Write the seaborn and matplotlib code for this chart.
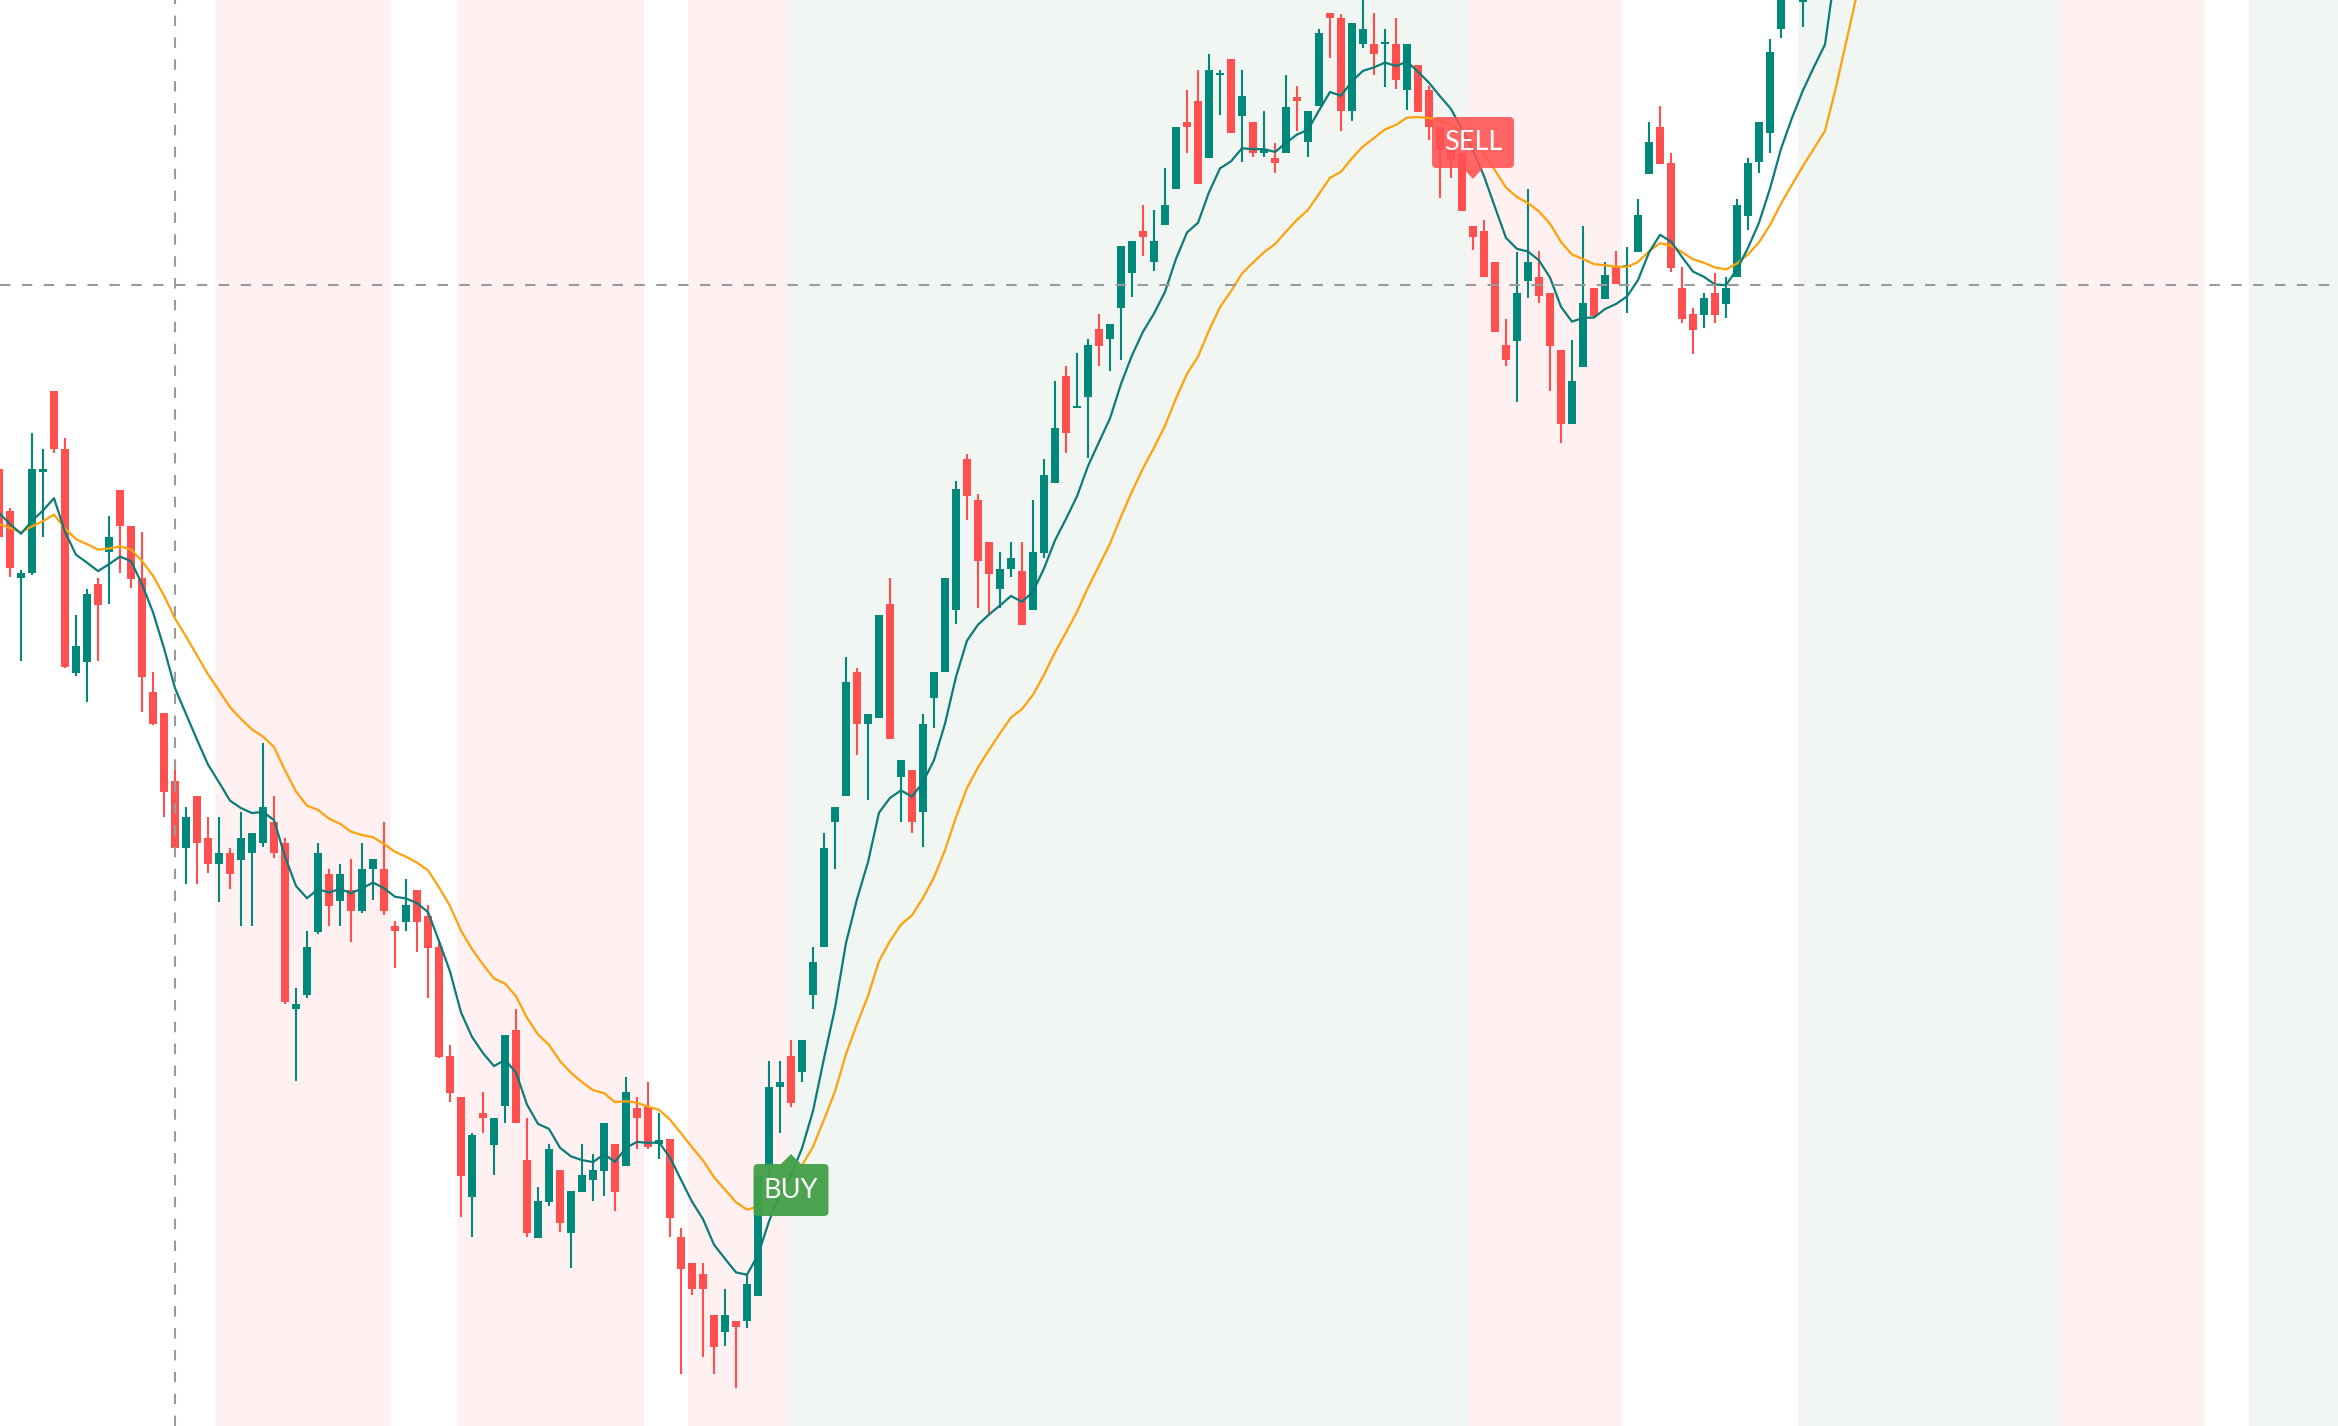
import numpy as np
import pandas as pd
import matplotlib
matplotlib.use("Agg")
import matplotlib.pyplot as plt
import seaborn as sns
from matplotlib.patches import FancyBboxPatch, Polygon

# ---------------- data ----------------
# bar index (-1 is the bar cut by the left edge; 161..168 run above the visible range)
bar_index = list(range(-1, 169))

open_ = [1031, 989, 922, 927, 1028, 1109, 1051, 827, 838, 916,
         948, 1010, 974, 922, 808, 787, 719, 652, 704, 662,
         636, 647, 640, 647, 657, 678, 657, 491, 505, 568,
         626, 599, 610, 589, 631, 631, 574, 578, 610, 584,
         553, 444, 403, 303, 387, 355, 394, 470, 340, 262,
         298, 330, 267, 308, 320, 329, 356, 334, 392, 393,
         356, 361, 263, 237, 226, 185, 168, 179, 179, 204,
         334, 413, 444, 428, 505, 553, 678, 704, 828, 776,
         782, 896, 723, 730, 688, 802, 828, 890, 1041, 1000,
         958, 911, 931, 929, 890, 947, 1017, 1124, 1092, 1103,
         1171, 1161, 1192, 1227, 1269, 1238, 1275, 1311, 1378, 1399,
         1342, 1425, 1441, 1384, 1378, 1347, 1342, 1347, 1403, 1358,
         1394, 1487, 1482, 1389, 1456, 1456, 1456, 1456, 1410, 1435,
         1410, 1373, 1350, 1347, 1274, 1269, 1238, 1155, 1159, 1219,
         1223, 1207, 1150, 1076, 1133, 1212, 1201, 1233, 1233, 1248,
         1326, 1373, 1337, 1212, 1186, 1185, 1207, 1196, 1223, 1284,
         1338, 1367, 1471, 1512, 1498, 1520, 1527, 1545, 1850, 1950]

high = [1035, 992, 930, 1067, 1051, 1109, 1062, 885, 911, 922,
        984, 1010, 974, 968, 828, 787, 740, 693, 704, 683,
        683, 652, 688, 667, 757, 704, 662, 512, 569, 657,
        631, 636, 641, 657, 641, 678, 579, 621, 610, 595,
        560, 455, 403, 367, 408, 382, 465, 491, 382, 313,
        356, 330, 309, 356, 346, 377, 356, 423, 403, 418,
        387, 361, 272, 237, 237, 185, 211, 179, 226, 324,
        439, 439, 460, 460, 553, 667, 693, 843, 832, 786,
        885, 922, 740, 730, 786, 828, 922, 1019, 1046, 1006,
        958, 948, 958, 958, 1000, 1041, 1119, 1134, 1147, 1161,
        1186, 1176, 1254, 1259, 1295, 1290, 1332, 1373, 1410, 1430,
        1446, 1430, 1441, 1430, 1378, 1389, 1357, 1425, 1414, 1389,
        1471, 1487, 1486, 1477, 1500, 1487, 1471, 1482, 1456, 1435,
        1414, 1373, 1350, 1347, 1274, 1280, 1238, 1181, 1248, 1311,
        1249, 1207, 1150, 1160, 1274, 1212, 1238, 1249, 1253, 1301,
        1378, 1394, 1347, 1233, 1192, 1207, 1227, 1223, 1301, 1342,
        1378, 1461, 1530, 1540, 1535, 1545, 1560, 1870, 1970, 2020]

low = [940, 923, 839, 925, 963, 1047, 832, 824, 798, 839,
       896, 927, 912, 788, 775, 683, 650, 616, 616, 627,
       598, 611, 574, 574, 653, 642, 496, 419, 502, 566,
       574, 574, 558, 587, 600, 585, 532, 569, 548, 502,
       442, 398, 283, 263, 367, 325, 377, 377, 263, 262,
       294, 268, 232, 308, 299, 304, 289, 334, 351, 351,
       341, 263, 126, 205, 143, 126, 154, 112, 172, 204,
       315, 367, 393, 418, 491, 553, 631, 704, 745, 700,
       782, 761, 678, 667, 653, 772, 828, 876, 980, 892,
       886, 892, 923, 875, 890, 942, 1017, 1047, 1092, 1042,
       1134, 1129, 1140, 1203, 1244, 1229, 1275, 1311, 1347, 1316,
       1342, 1385, 1367, 1338, 1343, 1343, 1327, 1347, 1369, 1343,
       1394, 1442, 1369, 1379, 1452, 1425, 1413, 1411, 1390, 1388,
       1360, 1302, 1322, 1289, 1250, 1223, 1168, 1134, 1098, 1202,
       1197, 1109, 1057, 1076, 1133, 1182, 1201, 1216, 1187, 1248,
       1326, 1336, 1228, 1177, 1146, 1172, 1177, 1182, 1223, 1270,
       1327, 1347, 1462, 1503, 1473, 1512, 1520, 1540, 1830, 1940]

close = [963, 932, 927, 1031, 1031, 1051, 833, 854, 906, 895,
         963, 974, 921, 823, 776, 708, 652, 683, 657, 636,
         647, 626, 662, 667, 693, 647, 498, 496, 553, 647,
         594, 626, 589, 631, 641, 589, 569, 595, 578, 552,
         443, 407, 324, 365, 382, 382, 465, 377, 267, 299,
         351, 277, 309, 325, 330, 377, 308, 408, 382, 353,
         360, 282, 231, 211, 211, 153, 185, 173, 216, 324,
         413, 418, 397, 460, 538, 652, 693, 818, 776, 786,
         885, 761, 740, 678, 776, 828, 922, 1011, 1004, 939,
         926, 931, 942, 875, 948, 1025, 1072, 1067, 1094, 1155,
         1154, 1176, 1254, 1259, 1263, 1259, 1295, 1373, 1373, 1316,
         1430, 1427, 1367, 1404, 1347, 1351, 1337, 1393, 1399, 1389,
         1467, 1482, 1389, 1477, 1471, 1446, 1457, 1420, 1456, 1388,
         1373, 1350, 1340, 1289, 1263, 1223, 1168, 1140, 1207, 1238,
         1204, 1154, 1076, 1119, 1197, 1184, 1225, 1216, 1234, 1285,
         1358, 1336, 1232, 1181, 1170, 1202, 1185, 1212, 1295, 1337,
         1378, 1448, 1510, 1506, 1520, 1527, 1545, 1850, 1950, 2000]

# moving-average levels at the left edge (bar -1)
ema_fast_start = 987
ema_slow_start = 976
ema_fast_span = 9
ema_slow_span = 21

# regime background bands (in bar-index units)
red_bands = [(18.6, 34.6), (40.6, 57.6), (61.6, 70.6), (132.5, 146.5), (186.5, 199.5)]
green_bands = [(70.6, 132.5), (162.5, 186.5), (203.5, 212.0)]

# signals: bar, label, price of pointer tip
signal_bar = [71, 133]
signal_text = ["BUY", "SELL"]
signal_price = [346, 1321]

# crosshair
cross_bar = 15
cross_price = 1215

# ---------------- styling ----------------
UP = "#00897B"
DOWN = "#FF4F4F"
FAST_C = "#0B7C78"
SLOW_C = "#FFA10A"
PINK = "#FFF0F2"
GREEN = "#F1F6F2"

sns.set_theme(style="white")
plt.rcParams["font.family"] = ["Lato", "DejaVu Sans"]

df = pd.DataFrame({"bar": bar_index, "open": open_, "high": high,
                   "low": low, "close": close})
df["fast"] = pd.Series([ema_fast_start] + close[1:]).ewm(span=ema_fast_span, adjust=False).mean().values
df["slow"] = pd.Series([ema_slow_start] + close[1:]).ewm(span=ema_slow_span, adjust=False).mean().values
df["up"] = df["close"] >= df["open"]

W, H, DPI = 2338, 1426, 100
fig = plt.figure(figsize=(W / DPI, H / DPI), dpi=DPI, facecolor="#FFFFFF")
ax = fig.add_axes([0, 0, 1, 1])
ax.set_facecolor("#FFFFFF")

# x in pixels = 10 + 11 * bar ; price unit = 1 pixel
x_left = -10 / 11
x_right = (W - 10) / 11
ax.set_xlim(x_left, x_right)
ax.set_ylim(1500 - H, 1500)

for a, b in red_bands:
    ax.axvspan(a, b, color=PINK, lw=0, zorder=0)
for a, b in green_bands:
    ax.axvspan(a, b, color=GREEN, lw=0, zorder=0)

colors = np.where(df["up"], UP, DOWN)
ax.vlines(df["bar"], df["low"], df["high"], colors=colors, lw=1.5, zorder=2)
body_bottom = np.minimum(df["open"], df["close"])
body_h = np.maximum(np.abs(df["close"] - df["open"]), 2.0)
ax.bar(df["bar"], body_h, bottom=body_bottom, width=0.73, color=colors,
       linewidth=0, zorder=3)

sns.lineplot(x=df["bar"], y=df["slow"], ax=ax, color=SLOW_C, lw=1.6,
             estimator=None, sort=False, zorder=4)
sns.lineplot(x=df["bar"], y=df["fast"], ax=ax, color=FAST_C, lw=1.6,
             estimator=None, sort=False, zorder=4)

# crosshair
ax.axvline(cross_bar, color="#9A9A9A", lw=1.5, ls=(0, (5, 5.5)), zorder=5)
ax.axhline(cross_price, color="#9A9A9A", lw=1.5, ls=(0, (5, 5.5)), zorder=5)

# signal labels
for b, t, p in zip(signal_bar, signal_text, signal_price):
    if t == "BUY":
        wpx, hpx, ph = 75, 52, 10
        col, alpha = "#43A047", 0.95
        box_top = p - ph
        box_bot = box_top - hpx
        tri = [(b - 10 / 11, box_top), (b + 10 / 11, box_top), (b, p)]
    else:
        wpx, hpx, ph = 82, 51, 11
        col, alpha = "#FF5252", 0.88
        box_bot = p + ph
        box_top = box_bot + hpx
        tri = [(b - 10 / 11, box_bot), (b + 10 / 11, box_bot), (b, p)]
    w = wpx / 11
    ax.add_patch(FancyBboxPatch((b - w / 2, box_bot), w, hpx,
                                boxstyle="round,pad=0,rounding_size=0.4",
                                mutation_aspect=11, fc=col, ec="none",
                                alpha=alpha, zorder=6))
    ax.add_patch(Polygon(tri, closed=True, fc=col, ec="none", alpha=alpha, zorder=6))
    ax.text(b, (box_bot + box_top) / 2, t, ha="center", va="center",
            color="white", fontsize=19.5, fontweight="normal", zorder=7)

ax.axis("off")
fig.savefig("out.png", dpi=DPI, facecolor=fig.get_facecolor())
